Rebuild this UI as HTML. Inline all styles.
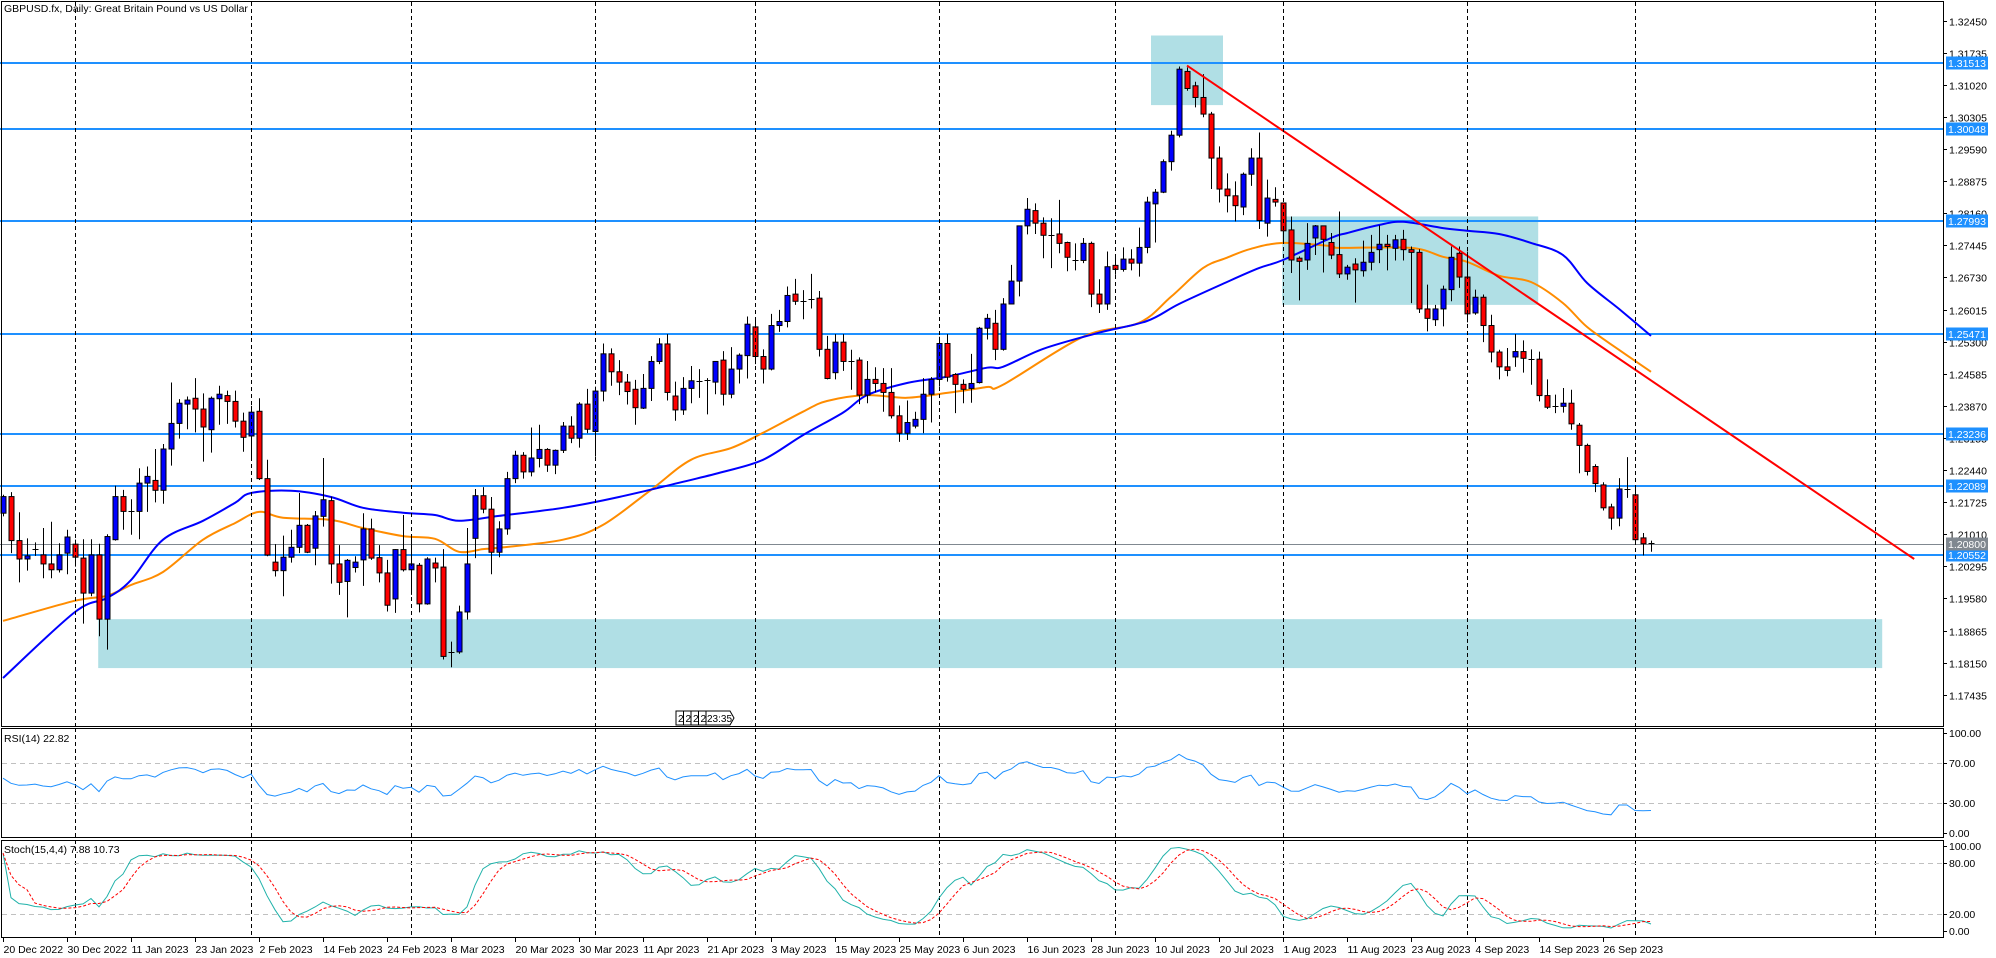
<!DOCTYPE html>
<html><head><meta charset="utf-8"><title>GBPUSD.fx Daily</title>
<style>
html,body{margin:0;padding:0;background:#fff;overflow:hidden}
svg{display:block;font-family:"Liberation Sans",sans-serif}
</style></head>
<body>
<svg id="chart" width="1996" height="958" viewBox="0 0 1996 958" xmlns="http://www.w3.org/2000/svg"></svg>
<script>
// ===== DATA =====
const opens=[1.2148,1.2185,1.2087,1.2046,1.2068,1.2055,1.2035,1.2022,1.2059,1.2079,1.2048,1.1970,1.2055,1.1912,1.2089,1.2185,1.2152,1.2152,1.2215,1.2221,1.2199,1.2291,1.2348,1.2391,1.2404,1.2380,1.2334,1.2403,1.2410,1.2397,1.2353,1.2320,1.2375,1.2225,1.2039,1.2020,1.2050,1.2072,1.2121,1.2070,1.2141,1.2176,1.2035,1.1996,1.2027,1.2044,1.2113,1.2049,1.2015,1.1957,1.2067,1.2022,1.2032,1.1946,1.2037,1.2028,1.1839,1.1839,1.1928,1.2092,1.2187,1.2157,1.2061,1.2113,1.2225,1.2277,1.2240,1.2270,1.2290,1.2255,
1.2288,1.2342,1.2315,1.2391,1.2330,1.2420,1.2503,1.2463,1.2440,1.2424,1.2382,1.2426,1.2486,1.2525,1.2409,1.2378,1.2426,1.2443,1.2445,1.2440,1.2489,1.2413,1.2469,1.2499,1.2563,1.2497,1.2469,1.2566,1.2575,1.2636,1.2621,1.2625,1.2627,1.2513,1.2461,1.2529,1.2488,1.2489,1.2411,1.2446,1.2437,1.2417,1.2365,1.2326,1.2342,1.2357,1.2413,1.2446,1.2526,1.2457,1.2435,1.2426,1.2439,1.2560,1.2571,
1.2513,1.2614,1.2665,1.2788,1.2822,1.2794,1.2767,1.2770,1.2751,1.2712,1.2711,1.2749,1.2636,1.2614,1.2700,1.2691,1.2714,1.2705,1.2740,1.2837,1.2863,1.2931,1.2990,1.3132,1.3100,1.3074,1.3037,1.2939,1.2870,1.2855,1.2830,1.2903,1.2939,1.2794,1.2847,1.2839,1.2779,1.2716,1.2712,1.2761,1.2788,1.2751,
1.2724,1.2681,1.2703,1.2688,1.2707,1.2735,1.2747,1.2738,1.2758,1.2735,1.2729,1.2603,1.2579,1.2603,1.2646,1.2727,1.2674,1.2594,1.2629,1.2566,1.2507,1.2474,1.2496,1.2508,1.2492,1.2491,1.2410,1.2387,1.2386,1.2393,1.2344,1.2299,1.2252,1.2211,1.2162,1.2137,1.2202,1.2189,1.2093,1.2082];
const highs=[1.2189,1.2195,1.2150,1.2092,1.2083,1.2115,1.2129,1.2081,1.2111,1.2089,1.2090,1.2090,1.2080,1.2101,1.2209,1.2200,1.2179,1.2248,1.2252,1.2291,1.2302,1.2439,1.2402,1.2408,1.2449,1.2415,1.2408,1.2432,1.2421,1.2421,1.2372,1.2387,1.2404,1.2267,1.2079,1.2098,1.2111,1.2193,1.2124,1.2153,1.2271,1.2185,1.2077,1.2046,1.2052,1.2148,1.2136,1.2077,1.2044,1.2068,1.2144,1.2096,1.2037,1.2050,1.2049,1.2068,1.1862,1.1942,1.2115,1.2202,1.2206,1.2184,1.2130,1.2240,1.2287,1.2284,1.2339,1.2345,1.2293,1.2290,
1.2351,1.2364,1.2395,1.2425,1.2430,1.2526,1.2515,1.2489,1.2458,1.2445,1.2458,1.2498,1.2538,1.2547,1.2441,1.2451,1.2476,1.2469,1.2449,1.2486,1.2509,1.2518,1.2504,1.2586,1.2577,1.2513,1.2592,1.2601,1.2653,1.2670,1.2645,1.2681,1.2643,1.2543,1.2547,1.2547,1.2512,1.2495,1.2487,1.2473,1.2471,1.2471,1.2388,1.2399,1.2374,1.2449,1.2451,1.2541,1.2547,1.2460,1.2446,1.2503,1.2563,1.2592,1.2601,
1.2627,1.2701,1.2788,1.2850,1.2838,1.2807,1.2805,1.2846,1.2753,1.2749,1.2761,1.2753,1.2669,1.2731,1.2723,1.2740,1.2736,1.2784,1.2853,1.2870,1.2936,1.3000,1.3143,1.3141,1.3109,1.3126,1.3042,1.2965,1.2905,1.2887,1.2907,1.2961,1.2996,1.2891,1.2874,1.2839,1.2809,1.2720,1.2794,1.2790,1.2788,1.2772,
1.2820,1.2701,1.2716,1.2755,1.2768,1.2789,1.2768,1.2768,1.2779,1.2742,1.2736,1.2657,1.2612,1.2655,1.2742,1.2742,1.2731,1.2646,1.2635,1.2590,1.2512,1.2516,1.2547,1.2533,1.2513,1.2508,1.2446,1.2412,1.2427,1.2423,1.2349,1.2303,1.2257,1.2217,1.2169,1.2226,1.2273,1.2208,1.2104,1.2087];
const lows=[1.2141,1.2059,1.1994,1.2020,1.2053,1.2003,1.2003,1.2016,1.2012,1.2029,1.1902,1.1963,1.1874,1.1844,1.2087,1.2111,1.2100,1.2090,1.2151,1.2172,1.2169,1.2254,1.2314,1.2335,1.2328,1.2263,1.2283,1.2345,1.2347,1.2339,1.2285,1.2265,1.2222,1.2052,1.2007,1.1963,1.2038,1.2059,1.2059,1.2032,1.2118,1.1991,1.1966,1.1916,1.2016,1.1986,1.2044,1.1994,1.1929,1.1926,1.2018,1.1966,1.1927,1.1944,1.1994,1.1822,1.1805,1.1835,1.1911,1.2048,1.2148,1.2012,1.2050,1.2100,1.2215,1.2225,1.2230,1.2250,1.2240,1.2235,
1.2282,1.2304,1.2294,1.2326,1.2274,1.2397,1.2432,1.2411,1.2390,1.2345,1.2380,1.2398,1.2480,1.2399,1.2354,1.2367,1.2393,1.2405,1.2368,1.2413,1.2388,1.2404,1.2437,1.2448,1.2480,1.2437,1.2466,1.2552,1.2562,1.2612,1.2580,1.2604,1.2497,1.2446,1.2446,1.2465,1.2423,1.2391,1.2393,1.2417,1.2374,1.2359,1.2307,1.2311,1.2337,1.2326,1.2350,1.2430,1.2441,1.2371,1.2393,1.2394,1.2437,1.2535,1.2489,
1.2510,1.2631,1.2631,1.2769,1.2770,1.2716,1.2694,1.2727,1.2687,1.2689,1.2705,1.2607,1.2594,1.2601,1.2679,1.2686,1.2689,1.2675,1.2727,1.2751,1.2861,1.2911,1.2985,1.3089,1.3052,1.3030,1.2870,1.2840,1.2818,1.2798,1.2812,1.2877,1.2781,1.2764,1.2831,1.2751,1.2683,1.2622,1.2690,1.2723,1.2684,1.2714,
1.2672,1.2668,1.2617,1.2675,1.2689,1.2705,1.2689,1.2711,1.2711,1.2616,1.2594,1.2553,1.2565,1.2564,1.2620,1.2650,1.2573,1.2590,1.2529,1.2484,1.2446,1.2453,1.2474,1.2461,1.2434,1.2397,1.2380,1.2371,1.2372,1.2334,1.2237,1.2232,1.2195,1.2154,1.2111,1.2119,1.2182,1.2085,1.2054,1.2062];
const closes=[1.2185,1.2087,1.2046,1.2053,1.2068,1.2035,1.2022,1.2055,1.2095,1.2050,1.1970,1.2055,1.1912,1.2096,1.2185,1.2152,1.2152,1.2215,1.2230,1.2199,1.2291,1.2348,1.2393,1.2400,1.2380,1.2340,1.2404,1.2413,1.2397,1.2353,1.2317,1.2373,1.2225,1.2055,1.2020,1.2050,1.2072,1.2121,1.2061,1.2142,1.2178,1.2035,1.1994,1.2043,1.2039,1.2113,1.2048,1.2015,1.1943,1.2067,1.2022,1.2035,1.1946,1.2046,1.2026,1.1829,1.1839,1.1928,1.2035,1.2187,1.2157,1.2061,1.2113,1.2225,1.2277,1.2240,1.2271,1.2290,1.2255,1.2288,
1.2342,1.2315,1.2391,1.2335,1.2420,1.2503,1.2463,1.2440,1.2419,1.2383,1.2426,1.2486,1.2525,1.2417,1.2378,1.2426,1.2443,1.2443,1.2445,1.2486,1.2413,1.2469,1.2500,1.2569,1.2497,1.2469,1.2566,1.2575,1.2633,1.2620,1.2621,1.2625,1.2513,1.2448,1.2529,1.2486,1.2488,1.2411,1.2446,1.2437,1.2417,1.2365,1.2326,1.2350,1.2357,1.2413,1.2446,1.2526,1.2451,1.2435,1.2424,1.2437,1.2560,1.2582,1.2513,
1.2614,1.2665,1.2788,1.2825,1.2794,1.2767,1.2767,1.2749,1.2718,1.2712,1.2749,1.2636,1.2614,1.2697,1.2691,1.2714,1.2705,1.2740,1.2841,1.2863,1.2931,1.2990,1.3137,1.3094,1.3074,1.3037,1.2939,1.2870,1.2855,1.2833,1.2903,1.2939,1.2800,1.2850,1.2841,1.2777,1.2712,1.2709,1.2749,1.2788,1.2758,1.2723,
1.2681,1.2696,1.2690,1.2707,1.2729,1.2747,1.2742,1.2757,1.2735,1.2729,1.2603,1.2582,1.2603,1.2647,1.2718,1.2674,1.2592,1.2629,1.2566,1.2507,1.2474,1.2466,1.2508,1.2493,1.2492,1.2410,1.2384,1.2387,1.2393,1.2347,1.2299,1.2241,1.2214,1.2160,1.2137,1.2202,1.2202,1.2089,1.2080,1.2082];

// moving averages (read at sample bars)
const maBars=[0,9,13,16,20,25,29,31,36,41,45,50,54,57,62,70,77,85,90,95,100,105,108,113,118,123,125,130,137,143,147,153,157,160,166,168,172,175,180,183,187,191,195,198,202,206];
const maBlue=[1.1781,1.1928,1.1959,1.1999,1.2089,1.2131,1.2171,1.2193,1.2198,1.2184,1.2160,1.2149,1.2144,1.2131,1.2142,1.2160,1.2184,1.2218,1.2240,1.2267,1.2322,1.2372,1.2411,1.2438,1.2452,1.2472,1.2474,1.2514,1.2550,1.2576,1.2614,1.2663,1.2694,1.2712,1.2761,1.2772,1.2790,1.2797,1.2783,1.2777,1.2770,1.2750,1.2723,1.2661,1.2603,1.2543];
const maOrangeBars=[0,9,13,16,20,25,29,32,35,41,45,50,54,57,60,62,70,75,81,86,91,95,100,103,108,113,118,123,125,135,142,146,150,153,156,160,166,167,176,180,183,187,191,195,198,202,206];
const maOrange=[1.1908,1.1953,1.1964,1.1988,1.2017,1.2089,1.2126,1.2151,1.2138,1.2133,1.2115,1.2097,1.2091,1.2062,1.2068,1.2071,1.2089,1.2122,1.2200,1.2267,1.2293,1.2327,1.2374,1.2398,1.2411,1.2405,1.2416,1.2429,1.2434,1.2541,1.2572,1.2630,1.2694,1.2717,1.2737,1.2750,1.2743,1.2739,1.2739,1.2719,1.2708,1.2677,1.2663,1.2616,1.2563,1.2512,1.2463];

const levelPrices=[1.31513,1.30048,1.27993,1.25471,1.23236,1.22089,1.20552];
const levelLabels=["1.31513","1.30048","1.27993","1.25471","1.23236","1.22089","1.20552"];
const bidPrice=1.20800;
const priceTicks=["1.32450","1.31735","1.31020","1.30305","1.29590","1.28875","1.28160","1.27445","1.26730","1.26015","1.25300","1.24585","1.23870","1.23155","1.22440","1.21725","1.21010","1.20295","1.19580","1.18865","1.18150","1.17435"];
const dateLabels=["20 Dec 2022","30 Dec 2022","11 Jan 2023","23 Jan 2023","2 Feb 2023","14 Feb 2023","24 Feb 2023","8 Mar 2023","20 Mar 2023","30 Mar 2023","11 Apr 2023","21 Apr 2023","3 May 2023","15 May 2023","25 May 2023","6 Jun 2023","16 Jun 2023","28 Jun 2023","10 Jul 2023","20 Jul 2023","1 Aug 2023","11 Aug 2023","23 Aug 2023","4 Sep 2023","14 Sep 2023","26 Sep 2023"];
const gridBars=[9,31,51,74,94,117,139,160,183,204,234];
const trendBars=[148,238.9];
const trendPrices=[1.3145,1.2046];
const zoneBars=[[143.5,152.5],[159.9,191.9],[11.9,234.9]];
const zonePrices=[[1.3212,1.3057],[1.2809,1.2612],[1.1912,1.1803]];

// ===== AXES =====
const R=1943;
const xBar=i=>3+8*i;
const yP=p=>20.7+(1.3245-p)*4489.5;
const yRsi=v=>833-v*1.0;
const ySto=v=>931-v*0.85;
const NS="http://www.w3.org/2000/svg";
const svg=document.getElementById('chart');
function mk(tag,attrs,parent){const e=document.createElementNS(NS,tag);for(const k in attrs)e.setAttribute(k,attrs[k]);(parent||svg).appendChild(e);return e;}

let bg=mk('rect',{x:0,y:0,width:1996,height:958,fill:'#fff'});



const plot=mk('g',{});



zoneBars.forEach((zb,k)=>{
  const r=mk('rect',{x:xBar(zb[0]),y:yP(zonePrices[k][0]),width:xBar(zb[1])-xBar(zb[0]),height:yP(zonePrices[k][1])-yP(zonePrices[k][0]),fill:'#b0dfe5'},plot);
  
  
});

gridBars.forEach(b=>{
  const x=Math.round(xBar(b))+0.5;
  [[2,726],[728,837],[840,937]].forEach(s=>{
    const l=mk('line',{x1:x,x2:x,y1:s[0],y2:s[1],stroke:'#000','stroke-width':1,'stroke-dasharray':'4,3'});
    
    
  });
});

let bl=mk('line',{x1:0,x2:R,y1:Math.round(yP(bidPrice))+0.5,y2:Math.round(yP(bidPrice))+0.5,stroke:'#808890','stroke-width':1},plot);



levelPrices.forEach(p=>{
  const y=Math.round(yP(p));
  const l=mk('line',{x1:0,x2:R,y1:y,y2:y,stroke:'#1e90ff','stroke-width':2},plot);
  
  
});

// smooth curve through sampled MA points (Catmull-Rom)
function smooth(bars,vals,yf){
  const pts=bars.map((b,k)=>[xBar(b),yf(vals[k])]);
  let d='M'+pts[0][0].toFixed(1)+','+pts[0][1].toFixed(1);
  for(let i=0;i<pts.length-1;i++){
    const p0=pts[Math.max(0,i-1)],p1=pts[i],p2=pts[i+1],p3=pts[Math.min(pts.length-1,i+2)];
    const c1=[p1[0]+(p2[0]-p0[0])/6,p1[1]+(p2[1]-p0[1])/6];
    const c2=[p2[0]-(p3[0]-p1[0])/6,p2[1]-(p3[1]-p1[1])/6];
    d+=' C'+c1[0].toFixed(1)+','+c1[1].toFixed(1)+' '+c2[0].toFixed(1)+','+c2[1].toFixed(1)+' '+p2[0].toFixed(1)+','+p2[1].toFixed(1);
  }
  return d;
}
let mo=mk('path',{d:smooth(maOrangeBars,maOrange,yP),fill:'none',stroke:'#ff8c00','stroke-width':2},plot);


let mb=mk('path',{d:smooth(maBars,maBlue,yP),fill:'none',stroke:'#0000ff','stroke-width':2},plot);



closes.forEach((c,i)=>{
  const o=opens[i],h=highs[i],l=lows[i];
  const x=Math.round(xBar(i))+0.5;
  const g=mk('g',{},plot);
  
  
  const w=mk('line',{x1:x,x2:x,y1:yP(h),y2:yP(l),stroke:'#000','stroke-width':1},g);
  
  
  const top=yP(Math.max(o,c)),bot=yP(Math.min(o,c));
  if(bot-top<1.2){
    const d=mk('line',{x1:x-3,x2:x+3,y1:Math.round(top)+0.5,y2:Math.round(top)+0.5,stroke:'#000','stroke-width':1},g);
    
    
  } else {
    const b=mk('rect',{x:x-2.5,y:top,width:5,height:bot-top,fill:c>=o?'#0000ff':'#ff0000',stroke:'#000','stroke-width':1},g);
    
    
  }
});

let tl=mk('line',{x1:xBar(trendBars[0]),y1:yP(trendPrices[0]),x2:xBar(trendBars[1]),y2:yP(trendPrices[1]),stroke:'#ff0000','stroke-width':2},plot);



let tt=mk('text',{x:4,y:12,'font-size':10.5,fill:'#000'});
tt.textContent='GBPUSD.fx, Daily:  Great Britain Pound vs US Dollar';



const tm=mk('g',{});


['2','2','2','2'].forEach((s,k)=>{
  mk('rect',{x:676+k*7.5,y:711,width:7.5,height:14,fill:'#fff',stroke:'#000','stroke-width':1},tm);
  const t=mk('text',{x:678+k*7.5,y:722,'font-size':10,fill:'#000'},tm);t.textContent=s;
});
mk('path',{d:'M706,711 H730 L734,718 L730,725 H706 Z',fill:'#fff',stroke:'#000','stroke-width':1},tm);
const tmt=mk('text',{x:707,y:722,'font-size':10,fill:'#000'},tm);tmt.textContent='23:35';

[[1,1,R-1,725],[1,728,R-1,109],[1,840,R-1,97]].forEach((r,k)=>{
  const b=mk('rect',{x:r[0]+0.5,y:r[1]+0.5,width:r[2],height:r[3],fill:'none',stroke:'#000','stroke-width':1});
  
  
});

priceTicks.forEach(s=>{
  const y=Math.round(yP(parseFloat(s)))+0.5;
  mk('line',{x1:R,x2:R+4,y1:y,y2:y,stroke:'#000'});
  const t=mk('text',{x:R+6,y:y+4,'font-size':10.5,fill:'#000'});
  t.textContent=s;
  
  
});
function tag(p,label,color){
  const y=Math.round(yP(p));
  const r=mk('rect',{x:R+3,y:y-6.5,width:42,height:13,fill:color});
  
  
  const t=mk('text',{x:R+5,y:y+4,'font-size':10.5,fill:'#fff'});
  t.textContent=label;
  
  
}
levelPrices.forEach((p,k)=>tag(p,levelLabels[k],'#1e90ff'));
tag(bidPrice,'1.20800','#808890');

// ===== RSI =====
const rsi=[];
let ag=0.0040,al=0.0033;
closes.forEach((c,i)=>{
  if(i>0){const d=c-closes[i-1];ag=(ag*13+Math.max(d,0))/14;al=(al*13+Math.max(-d,0))/14;}
  rsi.push(100*ag/(ag+al));
});
[70,30].forEach(v=>{
  const l=mk('line',{x1:2,x2:R,y1:yRsi(v)+0.5,y2:yRsi(v)+0.5,stroke:'#c0c0c0','stroke-dasharray':'5,4'});
  
  
});
let rl=mk('polyline',{points:rsi.map((v,i)=>xBar(i).toFixed(1)+','+yRsi(v).toFixed(1)).join(' '),fill:'none',stroke:'#1e90ff','stroke-width':1});


let rt=mk('text',{x:4,y:742,'font-size':10.5,fill:'#000'});rt.textContent='RSI(14) 22.82';


[['100.00',100],['70.00',70],['30.00',30],['0.00',0]].forEach(a=>{
  const y=yRsi(a[1]);
  mk('line',{x1:R,x2:R+4,y1:y+0.5,y2:y+0.5,stroke:'#000'});
  const t=mk('text',{x:R+6,y:y+4,'font-size':10.5,fill:'#000'});t.textContent=a[0];
  
  
});

// ===== STOCHASTIC =====
const kRaw=[],kS=[],dS=[];
closes.forEach((c,i)=>{
  let hh=-1,ll=9;
  for(let j=Math.max(0,i-14);j<=i;j++){hh=Math.max(hh,highs[j]);ll=Math.min(ll,lows[j]);}
  kRaw.push([c-ll,hh-ll]);
  let n=0,d=0;
  for(let j=Math.max(0,i-3);j<=i;j++){n+=kRaw[j][0];d+=kRaw[j][1];}
  kS.push(d>0?100*n/d:50);
  let s=0,m=0;
  for(let j=Math.max(0,i-3);j<=i;j++){s+=kS[j];m++;}
  dS.push(s/m);
});
[80,20].forEach(v=>{
  const l=mk('line',{x1:2,x2:R,y1:ySto(v)+0.5,y2:ySto(v)+0.5,stroke:'#c0c0c0','stroke-dasharray':'5,4'});
  
  
});
let sk=mk('polyline',{points:kS.map((v,i)=>xBar(i).toFixed(1)+','+ySto(v).toFixed(1)).join(' '),fill:'none',stroke:'#20b2aa','stroke-width':1});


let sd=mk('polyline',{points:dS.map((v,i)=>xBar(i).toFixed(1)+','+ySto(v).toFixed(1)).join(' '),fill:'none',stroke:'#ff0000','stroke-width':1,'stroke-dasharray':'3,2'});


let st=mk('text',{x:4,y:853,'font-size':10.5,fill:'#000'});st.textContent='Stoch(15,4,4) 7.88 10.73';


[['100.00',100],['80.00',80],['20.00',20],['0.00',0]].forEach(a=>{
  const y=ySto(a[1]);
  mk('line',{x1:R,x2:R+4,y1:y+0.5,y2:y+0.5,stroke:'#000'});
  const t=mk('text',{x:R+6,y:y+4,'font-size':10.5,fill:'#000'});t.textContent=a[0];
  
  
});

// ===== DATE AXIS =====
dateLabels.forEach((s,k)=>{
  const x=Math.round(xBar(k*8))+0.5;
  mk('line',{x1:x,x2:x,y1:938,y2:942,stroke:'#000'});
  const t=mk('text',{x:x,y:953,'font-size':10.5,fill:'#000'});
  t.textContent=s;
  
  
});
</script>
</body></html>
